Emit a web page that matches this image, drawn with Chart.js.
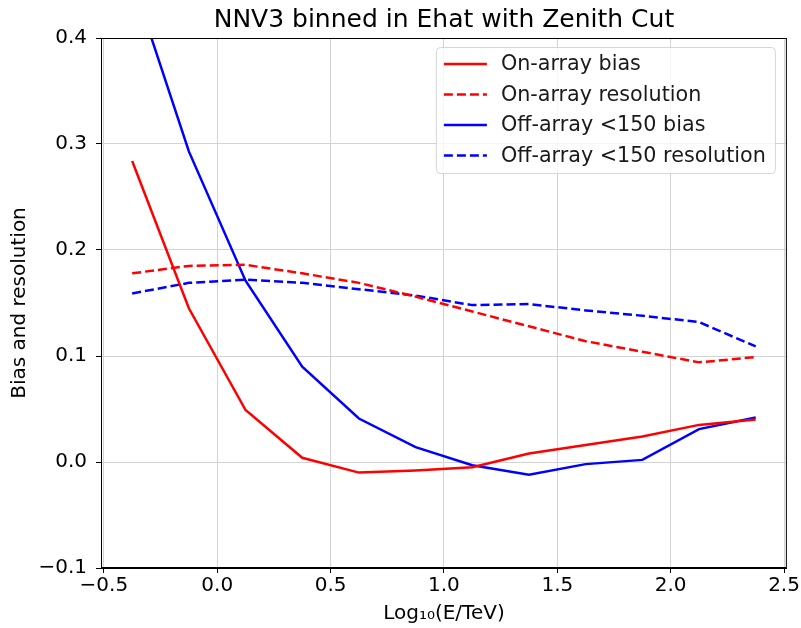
<!DOCTYPE html>
<html>
<head>
<meta charset="utf-8">
<script src="https://cdn.jsdelivr.net/npm/chart.js@4/dist/chart.umd.min.js"></script>
<style>
  html, body { margin: 0; padding: 0; background: #fff; }
  #wrap { width: 801px; height: 628px; }
</style>
</head>
<body>
<div id="wrap"><canvas id="biasChart" width="801" height="628"></canvas></div>
<script>
// log10(E/TeV) bin centres
var energyBins = [-0.375, -0.125, 0.125, 0.375, 0.625, 0.875, 1.125, 1.375, 1.625, 1.875, 2.125, 2.375];

var onArrayBias = [0.284, 0.145, 0.049, 0.004, -0.010, -0.008, -0.005, 0.008, 0.016, 0.024, 0.035, 0.040];
var onArrayResolution = [0.178, 0.185, 0.186, 0.178, 0.169, 0.156, 0.142, 0.128, 0.114, 0.104, 0.094, 0.099];
var offArrayBias = [0.455, 0.293, 0.171, 0.090, 0.041, 0.014, -0.003, -0.012, -0.002, 0.002, 0.031, 0.042];
var offArrayResolution = [0.159, 0.169, 0.172, 0.169, 0.163, 0.157, 0.148, 0.149, 0.143, 0.138, 0.132, 0.109];

var xTicks = [-0.5, 0.0, 0.5, 1.0, 1.5, 2.0, 2.5];
var yTicks = [-0.1, 0.0, 0.1, 0.2, 0.3, 0.4];

var chartTitle = 'NNV3 binned in Ehat with Zenith Cut';

var FONT = "'DejaVu Sans', sans-serif";

function toPoints(values) {
  return values.map(function(v, i) { return { x: energyBins[i], y: v }; });
}

function fmtTick(v) {
  var s = Number(v).toFixed(1);
  if (s === '-0.0') s = '0.0';
  return s.replace('-', '\u2212');
}

// title over the axes, top/right spines + legend box like matplotlib
var framePlugin = {
  id: 'frame',
  afterDraw: function(chart) {
    var ctx = chart.ctx;
    var a = chart.chartArea;
    ctx.save();
    ctx.strokeStyle = '#000';
    ctx.lineWidth = 1;
    ctx.strokeRect(a.left + 0.5, a.top + 0.5, a.right - a.left - 1, a.bottom - a.top - 1);

    ctx.font = '25px ' + FONT;
    ctx.fillStyle = '#000';
    ctx.textAlign = 'center';
    ctx.textBaseline = 'middle';
    ctx.fillText(chartTitle, (a.left + a.right) / 2, 20);

    // legend
    var sets = chart.data.datasets;
    var boxW = 339, rowH = 30.5;
    var boxH = rowH * sets.length + 4;
    var bx = a.right - 12 - boxW, by = a.top + 9;
    ctx.beginPath();
    if (ctx.roundRect) ctx.roundRect(bx + 0.5, by + 0.5, boxW, boxH, 4);
    else ctx.rect(bx + 0.5, by + 0.5, boxW, boxH);
    ctx.fillStyle = 'rgba(255,255,255,0.8)';
    ctx.fill();
    ctx.strokeStyle = '#d6d6d6';
    ctx.stroke();

    ctx.font = '20.7px ' + FONT;
    ctx.textBaseline = 'middle';
    ctx.textAlign = 'left';
    sets.forEach(function(ds, i) {
      var cy = by + 17 + i * rowH;
      ctx.beginPath();
      ctx.setLineDash(ds.borderDash || []);
      ctx.strokeStyle = ds.borderColor;
      ctx.lineWidth = ds.borderWidth;
      ctx.moveTo(bx + 8, cy);
      ctx.lineTo(bx + 51, cy);
      ctx.stroke();
      ctx.setLineDash([]);
      ctx.fillStyle = '#1a1a1a';
      ctx.fillText(ds.label, bx + 65, cy + 1);
    });
    ctx.restore();
  }
};

var datasets = [
  { label: 'On-array bias', data: toPoints(onArrayBias), borderColor: '#ff0000', borderDash: [] },
  { label: 'On-array resolution', data: toPoints(onArrayResolution), borderColor: '#ff0000', borderDash: [9, 4] },
  { label: 'Off-array <150 bias', data: toPoints(offArrayBias), borderColor: '#0000ff', borderDash: [] },
  { label: 'Off-array <150 resolution', data: toPoints(offArrayResolution), borderColor: '#0000ff', borderDash: [9, 4] }
].map(function(ds) {
  ds.borderWidth = 2.5;
  ds.pointRadius = 0;
  ds.pointHoverRadius = 0;
  ds.fill = false;
  ds.tension = 0;
  return ds;
});

new Chart(document.getElementById('biasChart'), {
  type: 'line',
  data: { datasets: datasets },
  options: {
    responsive: false,
    animation: false,
    layout: { padding: { left: 0, right: 12, top: 38, bottom: 0 } },
    plugins: {
      legend: { display: false },
      tooltip: { enabled: false },
      title: { display: false }
    },
    scales: {
      x: {
        type: 'linear',
        min: -0.5125,
        max: 2.5125,
        afterBuildTicks: function(scale) {
          scale.ticks = xTicks.map(function(v) { return { value: v }; });
        },
        afterFit: function(scale) { scale.height = 60; },
        ticks: {
          color: '#000',
          font: { family: FONT, size: 20 },
          padding: 1,
          maxRotation: 0,
          callback: function(v) { return fmtTick(v); }
        },
        grid: { color: '#d3d3d3', lineWidth: 1, drawTicks: true, tickLength: 5, tickColor: '#000', tickWidth: 1 },
        border: { color: '#000', width: 1 },
        title: {
          display: true,
          text: 'Log\u2081\u2080(E/TeV)',
          color: '#000',
          font: { family: FONT, size: 20 },
          padding: { top: 0, bottom: 2 }
        }
      },
      y: {
        type: 'linear',
        min: -0.1,
        max: 0.4,
        afterBuildTicks: function(scale) {
          scale.ticks = yTicks.map(function(v) { return { value: v }; });
        },
        afterFit: function(scale) { scale.width = 101; },
        ticks: {
          color: '#000',
          font: { family: FONT, size: 20 },
          padding: 9,
          callback: function(v) { return fmtTick(v); }
        },
        grid: { color: '#d3d3d3', lineWidth: 1, drawTicks: true, tickLength: 5, tickColor: '#000', tickWidth: 1 },
        border: { color: '#000', width: 1 },
        title: {
          display: true,
          text: 'Bias and resolution',
          color: '#000',
          font: { family: FONT, size: 20 },
          padding: { top: 8, bottom: 0 }
        }
      }
    }
  },
  plugins: [framePlugin]
});
</script>
</body>
</html>
